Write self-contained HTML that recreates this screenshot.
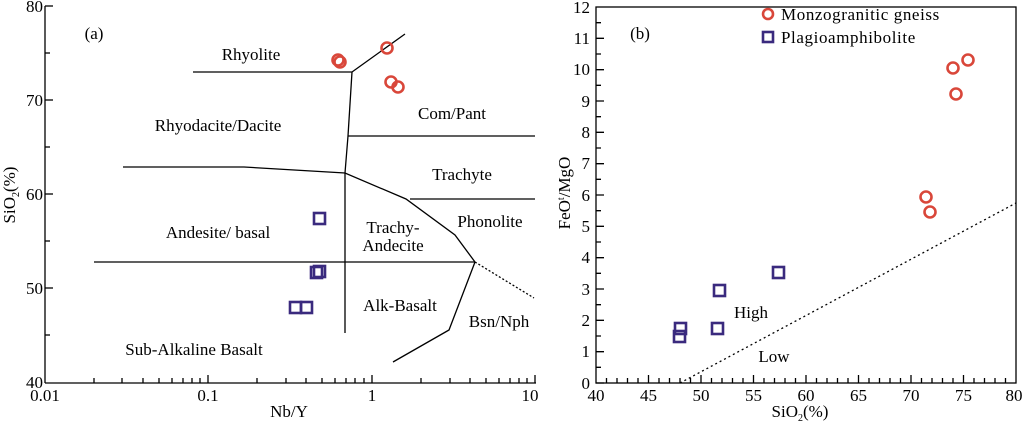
<!DOCTYPE html>
<html><head><meta charset="utf-8"><style>
html,body{margin:0;padding:0;background:#fff;}
svg, svg text{font-family:"Liberation Serif","DejaVu Serif",serif;}
svg{display:block;}
</style></head><body>
<svg width="1024" height="423" viewBox="0 0 1024 423" xmlns="http://www.w3.org/2000/svg" font-family="Liberation Serif, DejaVu Serif, serif">
<rect width="1024" height="423" fill="#fff"/>
<!-- LEFT CHART -->
<g stroke="#000" stroke-width="1.3" fill="none">
<line x1="45" y1="6" x2="45" y2="383"/>
<line x1="45" y1="383" x2="536" y2="383"/>
<line x1="45" y1="6" x2="53" y2="6"/><line x1="45" y1="100" x2="53" y2="100"/><line x1="45" y1="194" x2="53" y2="194"/><line x1="45" y1="288" x2="53" y2="288"/>
<line x1="45" y1="53" x2="50" y2="53"/><line x1="45" y1="147" x2="50" y2="147"/><line x1="45" y1="241" x2="50" y2="241"/><line x1="45" y1="335" x2="50" y2="335"/>
<path d="M208 383v-8M372 383v-8M535 383v-8
M94 383v-5M122 383v-5M143 383v-5M159 383v-5M172 383v-5M183 383v-5M192 383v-5M200 383v-5
M257 383v-5M286 383v-5M306 383v-5M322 383v-5M335 383v-5M346 383v-5M355 383v-5M364 383v-5
M421 383v-5M450 383v-5M470 383v-5M486 383v-5M499 383v-5M510 383v-5M519 383v-5M527 383v-5"/>
<polyline points="193,72 352,72 405,34"/>
<polyline points="352,72 348,136 345,173 345,333"/>
<line x1="348" y1="136" x2="535" y2="136"/>
<polyline points="123,167 244,167 345,173 406,199 455,235 475,262"/>
<line x1="410" y1="199" x2="535" y2="199"/>
<line x1="94" y1="262" x2="475" y2="262"/>
<polyline points="475,262 449,330 393,362"/>
<line x1="475" y1="262" x2="534" y2="298" stroke-dasharray="2,2"/>
</g>
<g font-size="17" fill="#000">
<text x="94" y="39" text-anchor="middle">(a)</text>
<text x="251" y="60" text-anchor="middle">Rhyolite</text>
<text x="218" y="131" text-anchor="middle">Rhyodacite/Dacite</text>
<text x="452" y="119" text-anchor="middle">Com/Pant</text>
<text x="462" y="180" text-anchor="middle">Trachyte</text>
<text x="490" y="227" text-anchor="middle">Phonolite</text>
<text x="393" y="233" text-anchor="middle">Trachy-</text>
<text x="393" y="251" text-anchor="middle">Andecite</text>
<text x="218" y="238" text-anchor="middle">Andesite/ basal</text>
<text x="400" y="311" text-anchor="middle">Alk-Basalt</text>
<text x="499" y="327" text-anchor="middle">Bsn/Nph</text>
<text x="194" y="355" text-anchor="middle">Sub-Alkaline Basalt</text>
</g>
<g font-size="17" fill="#000">
<text x="43" y="12" text-anchor="end">80</text>
<text x="43" y="106" text-anchor="end">70</text>
<text x="43" y="200" text-anchor="end">60</text>
<text x="43" y="294" text-anchor="end">50</text>
<text x="43" y="388" text-anchor="end">40</text>
<text x="45" y="401" text-anchor="middle">0.01</text>
<text x="208" y="401" text-anchor="middle">0.1</text>
<text x="372" y="401" text-anchor="middle">1</text>
<text x="530" y="401" text-anchor="middle">10</text>
<text x="289" y="417" text-anchor="middle">Nb/Y</text>
<text transform="translate(15,195) rotate(-90)" text-anchor="middle">SiO<tspan font-size="10" dy="4">2</tspan><tspan dy="-4">(%)</tspan></text>
</g>
<g fill="none" stroke="#d9473a" stroke-width="2.6">
<circle cx="338" cy="60" r="5.5"/><circle cx="340" cy="62" r="5.5"/><circle cx="387" cy="48" r="5.5"/><circle cx="391" cy="82" r="5.5"/><circle cx="398" cy="87" r="5.5"/>
</g>
<g fill="none" stroke="#3a2a7e" stroke-width="2.6">
<rect x="314" y="213" width="11" height="11"/><rect x="311" y="267" width="11" height="11"/><rect x="314" y="266" width="11" height="11"/><rect x="290" y="302" width="11" height="11"/><rect x="301" y="302" width="11" height="11"/>
</g>

<!-- RIGHT CHART -->
<g stroke="#000" stroke-width="1.3" fill="none">
<rect x="596" y="7" width="420" height="376"/>
<path d="M596 383h8M596 351.7h8M596 320.3h8M596 289h8M596 257.7h8M596 226.3h8M596 195h8M596 163.7h8M596 132.3h8M596 101h8M596 69.7h8M596 38.3h8
M596 367.3h5M596 336h5M596 304.7h5M596 273.3h5M596 242h5M596 210.7h5M596 179.3h5M596 148h5M596 116.7h5M596 85.3h5M596 54h5M596 22.7h5
M648.5 383v-8M701 383v-8M753.5 383v-8M806 383v-8M858.5 383v-8M911 383v-8M963.5 383v-8"/>
<path d="M606.5 383v-5M617 383v-5M627.5 383v-5M638 383v-5M659 383v-5M669.5 383v-5M680 383v-5M690.5 383v-5M711.5 383v-5M722 383v-5M732.5 383v-5M743 383v-5M764 383v-5M774.5 383v-5M785 383v-5M795.5 383v-5M816.5 383v-5M827 383v-5M837.5 383v-5M848 383v-5M869 383v-5M879.5 383v-5M890 383v-5M900.5 383v-5M921.5 383v-5M932 383v-5M942.5 383v-5M953 383v-5M974 383v-5M984.5 383v-5M995 383v-5M1005.5 383v-5"/>
<line x1="680" y1="383" x2="1016" y2="203" stroke-dasharray="2,3"/>
</g>
<g font-size="17" fill="#000">
<text x="590" y="13" text-anchor="end">12</text>
<text x="590" y="44" text-anchor="end">11</text>
<text x="590" y="75" text-anchor="end">10</text>
<text x="590" y="107" text-anchor="end">9</text>
<text x="590" y="138" text-anchor="end">8</text>
<text x="590" y="169" text-anchor="end">7</text>
<text x="590" y="201" text-anchor="end">6</text>
<text x="590" y="232" text-anchor="end">5</text>
<text x="590" y="263" text-anchor="end">4</text>
<text x="590" y="295" text-anchor="end">3</text>
<text x="590" y="326" text-anchor="end">2</text>
<text x="590" y="357" text-anchor="end">1</text>
<text x="590" y="389" text-anchor="end">0</text>
<text x="596" y="401" text-anchor="middle">40</text>
<text x="648.5" y="401" text-anchor="middle">45</text>
<text x="701" y="401" text-anchor="middle">50</text>
<text x="753.5" y="401" text-anchor="middle">55</text>
<text x="806" y="401" text-anchor="middle">60</text>
<text x="858.5" y="401" text-anchor="middle">65</text>
<text x="911" y="401" text-anchor="middle">70</text>
<text x="963.5" y="401" text-anchor="middle">75</text>
<text x="1014" y="401" text-anchor="middle">80</text>
<text x="800" y="417" text-anchor="middle">SiO<tspan font-size="10" dy="4">2</tspan><tspan dy="-4">(%)</tspan></text>
<text transform="translate(570,193) rotate(-90)" text-anchor="middle">FeO<tspan font-size="10" dy="-6">t</tspan><tspan dy="6">/MgO</tspan></text>
<text x="640" y="39" text-anchor="middle">(b)</text>
<text x="751" y="318" text-anchor="middle">High</text>
<text x="774" y="362" text-anchor="middle">Low</text>
<text x="781" y="20" letter-spacing="0.6">Monzogranitic gneiss</text>
<text x="781" y="43" letter-spacing="0.6">Plagioamphibolite</text>
</g>
<g fill="none" stroke="#d9473a" stroke-width="2.6">
<circle cx="768" cy="14" r="5"/>
<circle cx="953" cy="68" r="5.5"/><circle cx="968" cy="60" r="5.5"/><circle cx="956" cy="94" r="5.5"/><circle cx="926" cy="197" r="5.5"/><circle cx="930" cy="212" r="5.5"/>
</g>
<g fill="none" stroke="#3a2a7e" stroke-width="2.6">
<rect x="763" y="32" width="10" height="10"/>
<rect x="714" y="285" width="11" height="11"/><rect x="773" y="267" width="11" height="11"/><rect x="712" y="323" width="11" height="11"/><rect x="675" y="323" width="11" height="11"/><rect x="674" y="331" width="11" height="11"/>
</g>
</svg>
</body></html>
